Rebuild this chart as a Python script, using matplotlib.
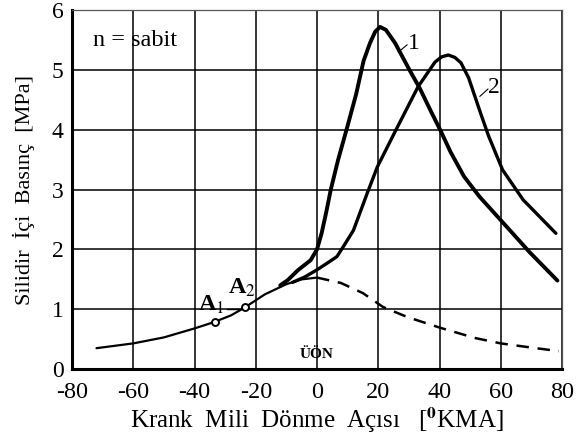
import matplotlib.pyplot as plt

base_x = [-72, -60, -50, -40, -33.4, -28, -23.6, -17, -10, -5, 0]
base_y = [0.35, 0.43, 0.53, 0.68, 0.79, 0.90, 1.03, 1.25, 1.42, 1.50, 1.53]

motor_x = [0, 7.8, 15, 21.5, 29.5, 40.3, 51.6, 60, 70, 79]
motor_y = [1.53, 1.44, 1.27, 1.04, 0.87, 0.69, 0.52, 0.43, 0.36, 0.30]

c1_x = [-12, -9.5, -6.3, -2.1, 0, 1.5, 3, 4.5, 6.9, 9.9, 12.8, 15.2, 17.3, 19, 20.6, 22.5, 25.5,
        30.2, 33.5, 37, 40.4, 43.6, 48, 53.1, 60, 69.5, 78.5]
c1_y = [1.40, 1.49, 1.65, 1.82, 2.0, 2.27, 2.62, 3.0, 3.5, 4.05, 4.6, 5.15, 5.45, 5.64, 5.72, 5.67, 5.45,
        5.0, 4.7, 4.33, 3.98, 3.63, 3.22, 2.88, 2.49, 1.95, 1.48]

c2_x = [-8, -4, 0, 3, 6.5, 9, 11.9, 16.4, 19.7, 25.8, 33, 38.5, 40.7, 42.9, 45, 47, 49.5, 53.4, 56,
        60.6, 67.3, 78]
c2_y = [1.45, 1.54, 1.66, 1.76, 1.88, 2.08, 2.32, 2.94, 3.38, 4.0, 4.72, 5.13, 5.22, 5.25, 5.21, 5.12,
        4.87, 4.28, 3.9, 3.33, 2.83, 2.27]

pts_x = [-33.4, -23.6]
pts_y = [0.79, 1.03]

xticks = [-80, -60, -40, -20, 0, 20, 40, 60, 80]
yticks = [0, 1, 2, 3, 4, 5, 6]

plt.rcParams['font.family'] = ['Liberation Serif', 'DejaVu Serif']
plt.rcParams['mathtext.fontset'] = 'stix'

fig = plt.figure(figsize=(5.77, 4.41), dpi=100)
ax = fig.add_axes([0.1248, 0.163, 0.8492, 0.814])

ax.set_xlim(-80, 80)
ax.set_ylim(0, 6)
ax.set_xticks(xticks)
ax.set_yticks(yticks)
ax.set_xticklabels([str(v) for v in xticks], fontsize=17.5)
ax.set_yticklabels([str(v) for v in yticks], fontsize=17)
ax.tick_params(length=0)
ax.tick_params(axis='x', pad=9)
ax.tick_params(axis='y', pad=6)
ax.grid(True, color='black', linewidth=1.1)
ax.set_axisbelow(True)

for side in ['top', 'right']:
    ax.spines[side].set_linewidth(0.9)
    ax.spines[side].set_color('#555555')
ax.spines['left'].set_linewidth(2.2)
ax.spines['bottom'].set_linewidth(2.2)

ax.plot(base_x, base_y, color='black', lw=1.6, solid_capstyle='round')
ax.plot(motor_x, motor_y, color='black', lw=1.8, dashes=(5, 3.5))
ax.plot(c1_x, c1_y, color='black', lw=2.8, solid_joinstyle='round', solid_capstyle='round')
ax.plot(c2_x, c2_y, color='black', lw=2.4, solid_joinstyle='round', solid_capstyle='round')
ax.plot(pts_x, pts_y, 'o', ms=5, mfc='white', mec='black', mew=1.4, zorder=5)

# labels on the curves
ax.text(-73, 5.5, 'n = sabit', fontsize=17.5, va='center', ha='left')
ax.plot([26.6, 29.4], [5.30, 5.42], color='black', lw=0.8)
ax.text(29.8, 5.45, '1', fontsize=17, va='center', ha='left')
ax.plot([53.2, 55.8], [4.56, 4.68], color='black', lw=0.8)
ax.text(56.0, 4.7, '2', fontsize=17, va='center', ha='left')
ax.text(-39, 1.07, 'A$_1$', fontsize=17.5, fontweight='bold', va='center', ha='left')
ax.text(-29, 1.35, 'A$_2$', fontsize=17.5, fontweight='bold', va='center', ha='left')
ax.plot([-29.5, -25.2], [1.0, 1.0], color='black', lw=1.0)
ax.text(0, 0.24, 'ÜÖN', fontsize=11, fontweight='bold', va='center', ha='center')

ax.set_xlabel('Krank  Mili  Dönme  Açısı   [$^{\\mathbf{0}}$KMA]', fontsize=18, labelpad=2)
ax.set_ylabel('Silidir  İçi  Basınç  [MPa]', fontsize=16, labelpad=12)

fig.savefig('out.png', dpi=100)
